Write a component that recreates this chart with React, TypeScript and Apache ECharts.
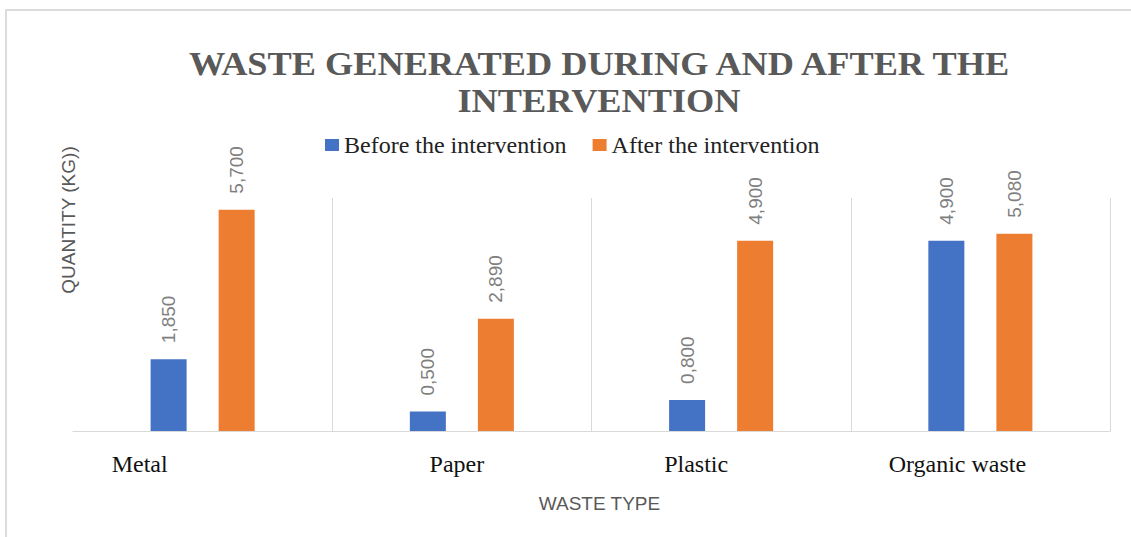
import React, { useEffect, useRef } from "react";
import * as echarts from "echarts";

const categories = ["Metal", "Paper", "Plastic", "Organic waste"];
const beforeValues = [1.85, 0.5, 0.8, 4.9];
const afterValues = [5.7, 2.89, 4.9, 5.08];
const seriesNames = ["Before the intervention", "After the intervention"];
const titleText = "WASTE GENERATED DURING AND AFTER THE\nINTERVENTION";
const yAxisName = "QUANTITY (KG))";
const xAxisName = "WASTE TYPE";

// horizontal shift (px) of each category label, as drawn in the reference
const labelShift = [-63, -5, -25, -23];

const fmt = (v: number) => v.toFixed(3).replace(".", ",");

export default function App() {
  const ref = useRef<HTMLDivElement>(null);
  useEffect(() => {
    if (!ref.current) return;
    const chart = echarts.init(ref.current, undefined, { renderer: "svg" });
    const label = {
      show: true,
      position: "top",
      rotate: 90,
      align: "left",
      verticalAlign: "middle",
      distance: 16,
      color: "#7f7f7f",
      fontFamily: "'Liberation Sans', Arial, sans-serif",
      fontSize: 19,
      formatter: (p: any) => fmt(p.value),
    };
    chart.setOption({
      animation: false,
      backgroundColor: "#ffffff",
      grid: { left: 73, right: 21, top: 198, bottom: 106, containLabel: false },
      legend: {
        data: seriesNames,
        left: 320,
        top: 128,
        itemWidth: 14,
        itemHeight: 12,
        itemGap: 26,
        icon: "rect",
        textStyle: {
          fontFamily: "'Liberation Serif', 'Times New Roman', serif",
          fontSize: 24,
          color: "#222222",
        },
      },
      xAxis: {
        type: "category",
        data: categories.map((c, i) => ({
          value: c,
          textStyle: {
            padding: labelShift[i] < 0 ? [0, -2 * labelShift[i], 0, 0] : [0, 0, 0, 2 * labelShift[i]],
          },
        })),
        axisLine: { show: true, lineStyle: { color: "#d9d9d9", width: 1 } },
        axisTick: { show: false },
        splitLine: { show: true, showMinLine: false, lineStyle: { color: "#d9d9d9", width: 1 } },
        axisLabel: {
          margin: 21,
          color: "#111111",
          fontFamily: "'Liberation Serif', 'Times New Roman', serif",
          fontSize: 24,
        },
        name: xAxisName,
        nameLocation: "middle",
        nameGap: 63,
        nameTextStyle: {
          color: "#595959",
          fontFamily: "'Liberation Sans', Arial, sans-serif",
          fontSize: 19,
          padding: [0, 0, 0, 16],
        },
      },
      yAxis: {
        type: "value",
        min: 0,
        max: 6,
        interval: 1,
        show: true,
        axisLine: { show: false },
        axisTick: { show: false },
        axisLabel: { show: false },
        splitLine: { show: false },
      },
      series: [
        {
          name: seriesNames[0],
          type: "bar",
          data: beforeValues,
          barWidth: 36,
          barGap: "89%",
          itemStyle: { color: "#4472C4" },
          label,
        },
        {
          name: seriesNames[1],
          type: "bar",
          data: afterValues,
          barWidth: 36,
          itemStyle: { color: "#ED7D31" },
          label,
        },
      ],
      graphic: [
        {
          type: "rect",
          shape: { x: 6, y: 10, width: 1200, height: 600 },
          style: { fill: "none", stroke: "#dcdcdc", lineWidth: 2 },
          silent: true,
        },
        {
          type: "text",
          x: 599,
          y: 46,
          scaleX: 1.1,
          style: {
            text: titleText,
            fill: "#595959",
            font: "bold 33px 'Liberation Serif', 'Times New Roman', serif",
            lineHeight: 37,
            align: "center",
            verticalAlign: "top",
          },
        },
        {
          type: "text",
          x: 68,
          y: 220,
          rotation: Math.PI / 2,
          style: {
            text: yAxisName,
            fill: "#595959",
            font: "19px 'Liberation Sans', Arial, sans-serif",
            align: "center",
            verticalAlign: "middle",
          },
        },
      ],
    });
    return () => chart.dispose();
  }, []);
  return (
    <div
      ref={ref}
      style={{ position: "fixed", left: 0, top: 0, width: 1131, height: 537 }}
    />
  );
}
